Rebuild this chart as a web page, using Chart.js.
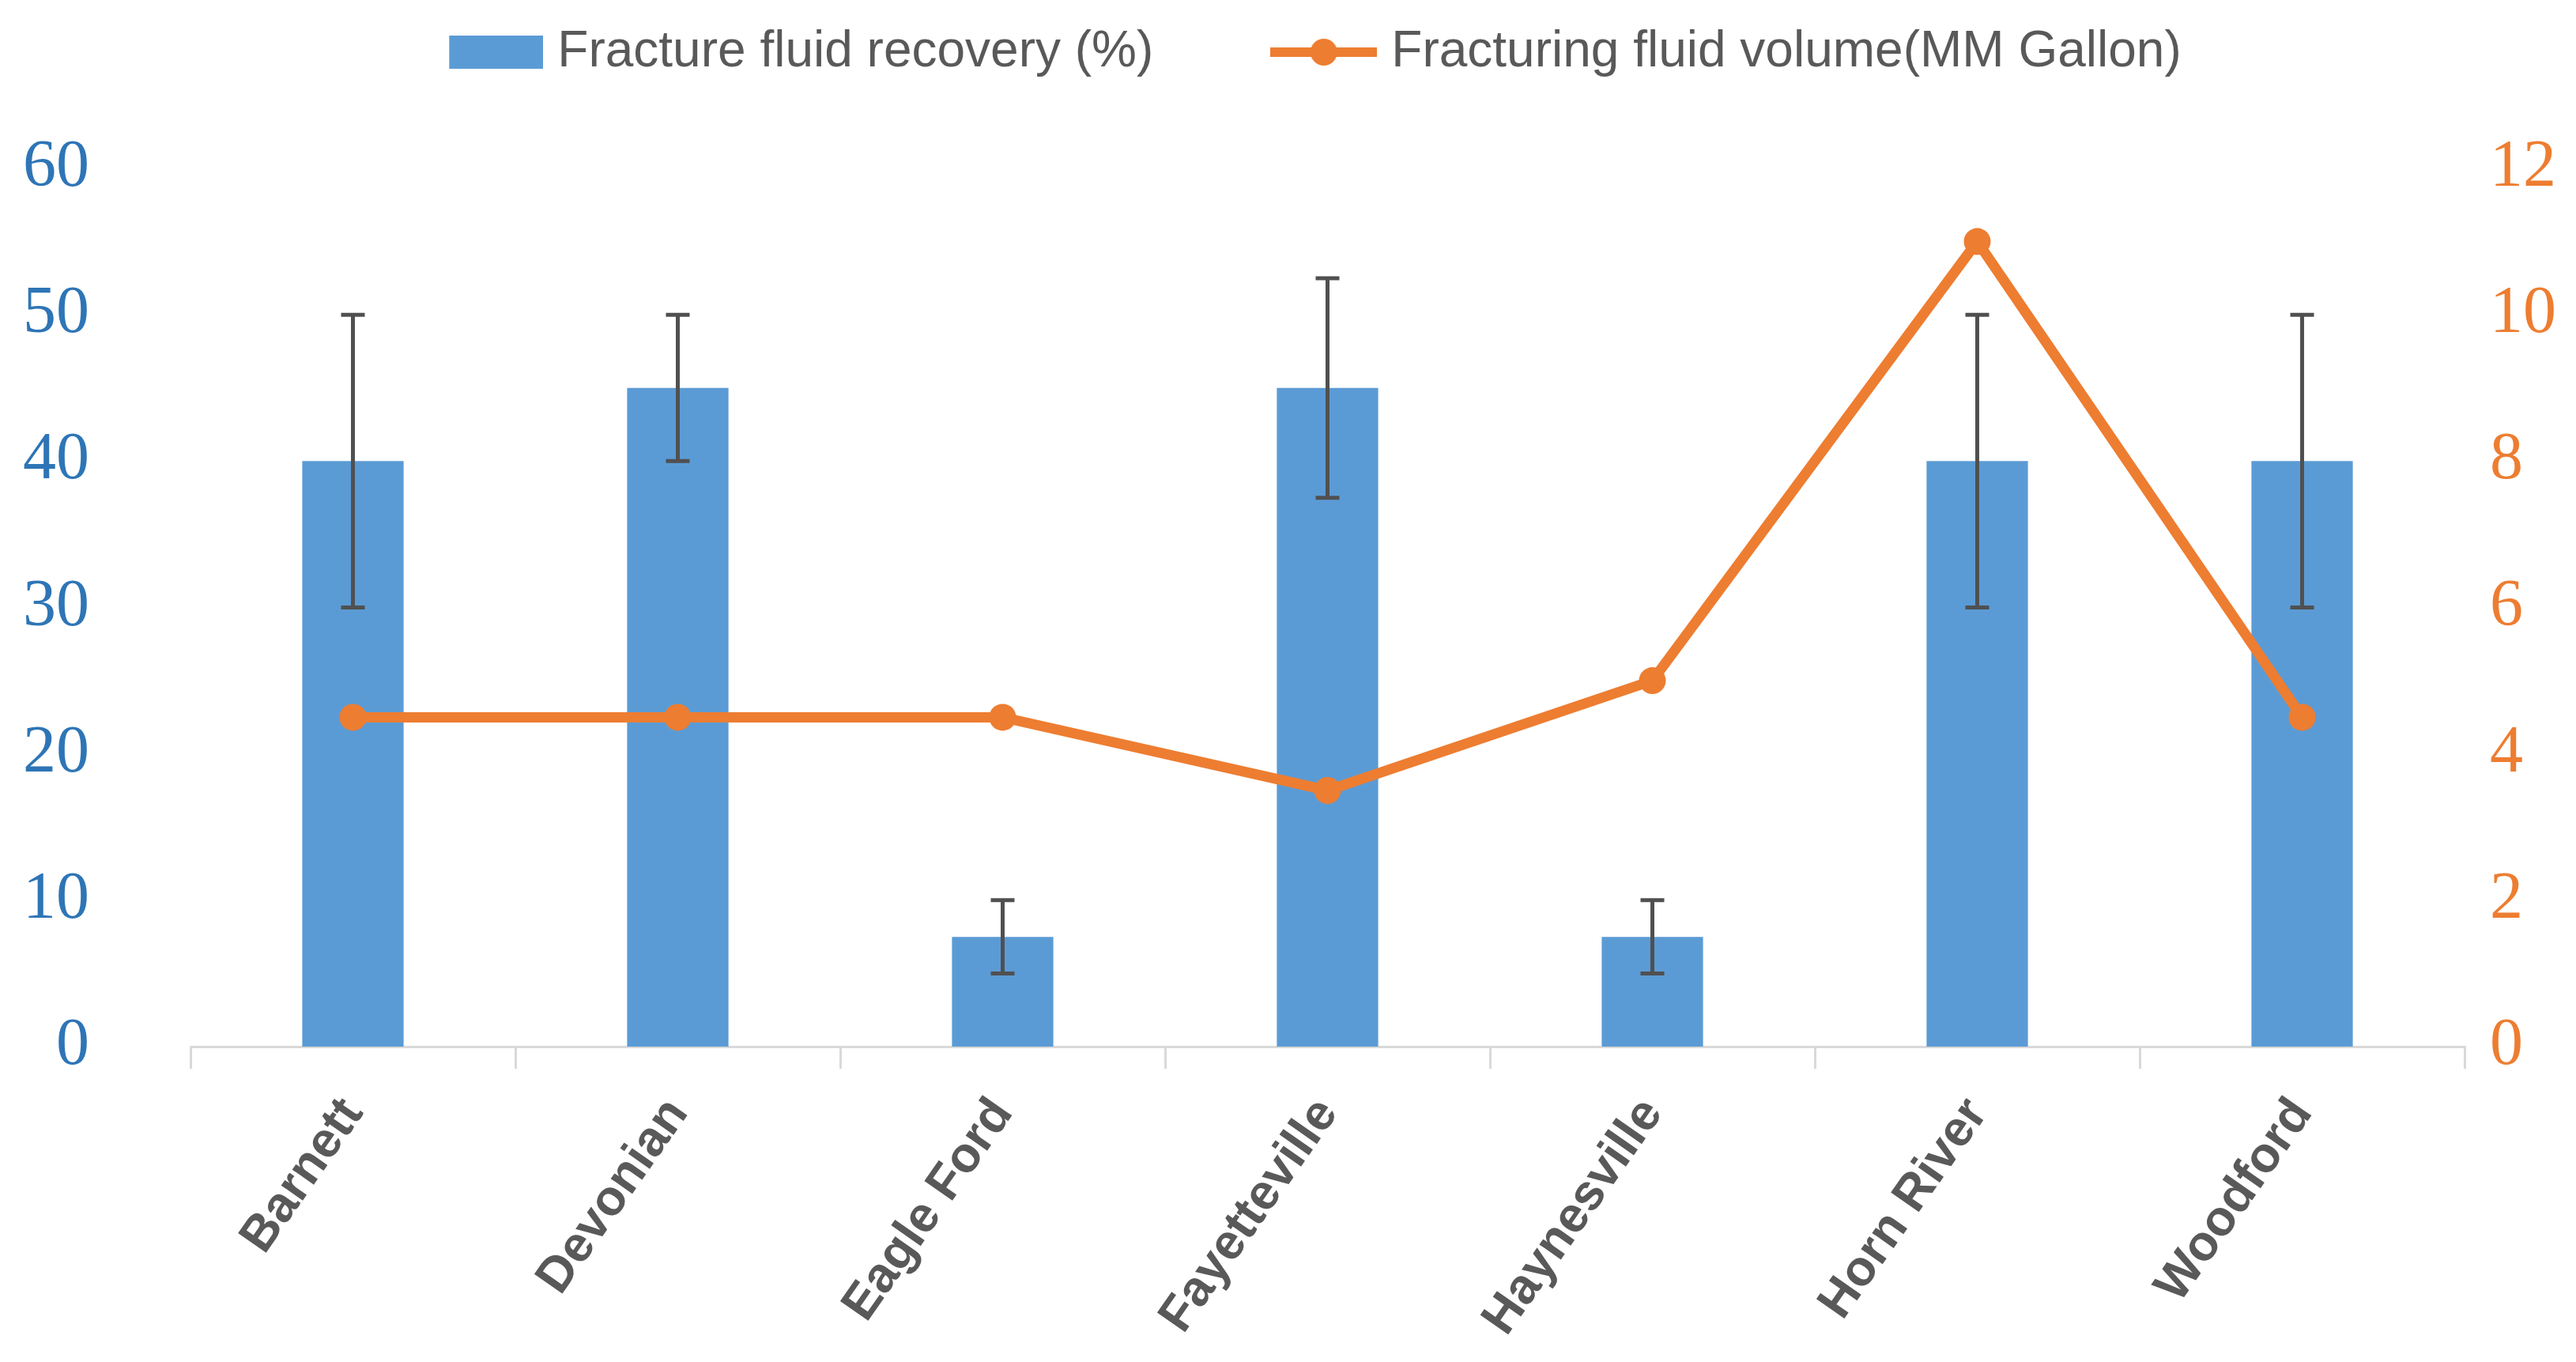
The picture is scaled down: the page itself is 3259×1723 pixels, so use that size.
<!DOCTYPE html>
<html>
<head>
<meta charset="utf-8">
<script src="https://cdn.jsdelivr.net/npm/chart.js@4.4.1/dist/chart.umd.min.js"></script>
<style>
  html, body { margin: 0; padding: 0; background: #fff; }
  #wrap { width: 3259px; height: 1723px; }
</style>
</head>
<body>
<div id="wrap"><canvas id="chart" width="3259" height="1723"></canvas></div>
<script>
// data
const plays = ['Barnett', 'Devonian', 'Eagle Ford', 'Fayetteville', 'Haynesville', 'Horn River', 'Woodford'];
const recovery = [40, 45, 7.5, 45, 7.5, 40, 40];          // %
const recoveryLow = [30, 40, 5, 37.5, 5, 30, 30];          // error bar ends
const recoveryHigh = [50, 50, 10, 52.5, 10, 50, 50];
const fluidVolume = [4.5, 4.5, 4.5, 3.5, 5, 11, 4.5];      // MM gallon

const BLUE = '#5B9BD5';
const ORANGE = '#ED7D31';
const GREY = '#595959';

// legend icons (bar swatch and line-with-dot)
function makeIcon(kind){
  const c = document.createElement('canvas');
  c.width = 135; c.height = 46;
  const g = c.getContext('2d');
  if (kind === 'bar') {
    g.fillStyle = BLUE;
    g.fillRect(16, 2, 119, 42);
  } else {
    g.strokeStyle = ORANGE;
    g.lineWidth = 12;
    g.beginPath(); g.moveTo(0, 23); g.lineTo(135, 23); g.stroke();
    g.fillStyle = ORANGE;
    g.beginPath(); g.arc(67.5, 23, 17, 0, Math.PI * 2); g.fill();
  }
  return c;
}
const icons = [makeIcon('bar'), makeIcon('line')];

// whisker plugin, drawn right after the bars so the line stays on top
const errorBars = {
  id: 'errorBars',
  afterDatasetDraw(chart, args){
    if (args.index !== 0) return;
    const ctx = chart.ctx;
    const y = chart.scales.y;
    ctx.save();
    ctx.strokeStyle = '#505050';
    ctx.lineWidth = 5;
    args.meta.data.forEach((bar, i) => {
      const x = bar.x;
      const top = y.getPixelForValue(recoveryHigh[i]);
      const bot = y.getPixelForValue(recoveryLow[i]);
      ctx.beginPath();
      ctx.moveTo(x, top); ctx.lineTo(x, bot);
      ctx.moveTo(x - 15, top); ctx.lineTo(x + 15, top);
      ctx.moveTo(x - 15, bot); ctx.lineTo(x + 15, bot);
      ctx.stroke();
    });
    ctx.restore();
  }
};

const ctx = document.getElementById('chart').getContext('2d');
new Chart(ctx, {
  type: 'bar',
  data: {
    labels: plays,
    datasets: [
      {
        label: 'Fracture fluid recovery (%)',
        data: recovery,
        backgroundColor: BLUE,
        borderWidth: 0,
        barPercentage: 0.312,
        categoryPercentage: 1,
        yAxisID: 'y',
        order: 1
      },
      {
        type: 'line',
        label: 'Fracturing fluid volume(MM Gallon)',
        data: fluidVolume,
        borderColor: ORANGE,
        backgroundColor: ORANGE,
        borderWidth: 13,
        pointRadius: 17,
        pointBorderWidth: 0,
        pointBackgroundColor: ORANGE,
        tension: 0,
        yAxisID: 'y1',
        order: 0
      }
    ]
  },
  options: {
    responsive: false,
    devicePixelRatio: 1,
    animation: false,
    layout: { padding: { top: -128, left: 0, right: -67, bottom: 0 } },
    plugins: {
      tooltip: { enabled: false },
      legend: {
        position: 'top',
        labels: {
          usePointStyle: true,
          pointStyleWidth: 107,
          padding: 162,
          color: GREY,
          font: { family: 'Liberation Sans', size: 64 },
          sort: (a, b) => a.datasetIndex - b.datasetIndex,
          generateLabels(chart){
            const items = Chart.defaults.plugins.legend.labels.generateLabels(chart);
            items.forEach(it => { it.pointStyle = icons[it.datasetIndex]; });
            return items;
          }
        }
      },
      // empty title used as a spacer between legend and plot
      title: {
        display: true,
        text: '',
        weight: 500,
        font: { size: 1, lineHeight: 1 },
        padding: { top: 0, bottom: 104 }
      }
    },
    scales: {
      x: {
        offset: true,
        grid: { display: true, drawOnChartArea: false, drawTicks: true, tickLength: 28, color: '#D9D9D9', lineWidth: 3 },
        border: { display: true, color: '#D9D9D9', width: 3 },
        ticks: {
          autoSkip: false,
          minRotation: 55,
          maxRotation: 55,
          padding: 24,
          color: GREY,
          font: { family: 'Liberation Sans', size: 63, weight: 'bold' }
        },
        afterFit(scale){ scale.height = 399; }
      },
      y: {
        position: 'left',
        min: 0, max: 60,
        grid: { display: false, drawTicks: false },
        border: { display: false },
        ticks: {
          stepSize: 10,
          padding: 128,
          color: '#2E75B6',
          font: { family: 'Liberation Serif', size: 84 }
        },
        afterFit(scale){ scale.width = 241; }
      },
      y1: {
        position: 'right',
        min: 0, max: 12,
        grid: { display: false, drawTicks: false },
        border: { display: false },
        ticks: {
          stepSize: 2,
          padding: 32,
          color: ORANGE,
          font: { family: 'Liberation Serif', size: 84 }
        },
        afterFit(scale){ scale.width = 208; }
      }
    }
  },
  plugins: [errorBars]
});
</script>
</body>
</html>
